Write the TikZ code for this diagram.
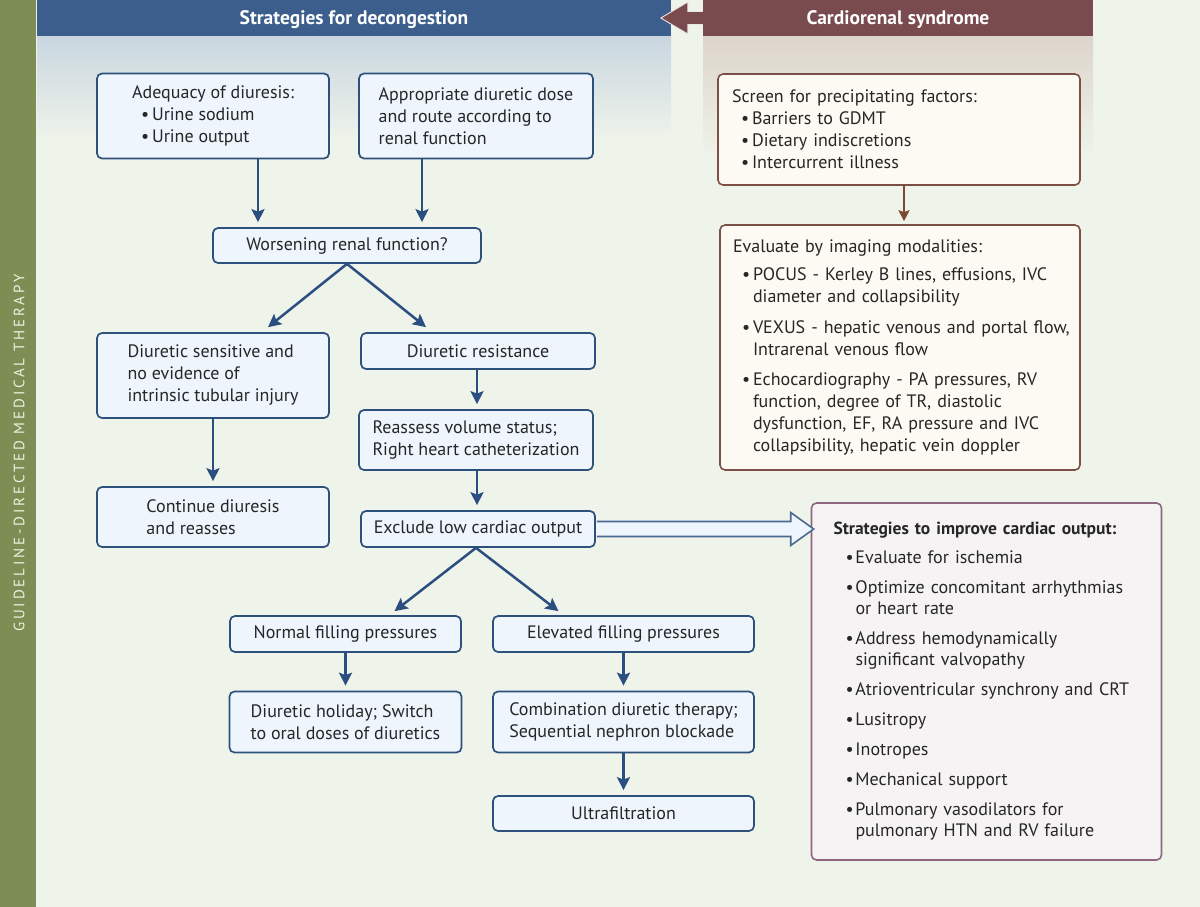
\documentclass[tikz,border=0pt]{standalone}
\usepackage{fontspec}
\setmainfont{PT Sans}
\usetikzlibrary{arrows.meta,calc}
\definecolor{bg}{HTML}{EFF4EA}
\definecolor{hblue}{HTML}{3B5E8C}
\definecolor{hmaroon}{HTML}{7A4B4E}
\definecolor{bfill}{HTML}{EEF5FC}
\definecolor{bborder}{HTML}{2E507C}
\definecolor{ablue}{HTML}{2A4E80}
\definecolor{cfill}{HTML}{FDF9F3}
\definecolor{cborder}{HTML}{7D5045}
\definecolor{abrown}{HTML}{7B4A32}
\definecolor{sfill}{HTML}{F6F3F4}
\definecolor{sborder}{HTML}{8E6680}
\definecolor{barcol}{HTML}{7E8D53}
\definecolor{bartext}{HTML}{EEF1E2}
\definecolor{bluegrad}{HTML}{C9D6E0}
\definecolor{beigegrad}{HTML}{DDD5CC}
\definecolor{txt}{HTML}{262626}
\newcommand{\bul}{\hspace*{9pt}\makebox[11pt][l]{\textbullet}}
\newcommand{\ind}{\hspace*{20pt}}
\newcommand{\bulx}{\hspace*{12pt}\makebox[10pt][l]{\textbullet}}
\newcommand{\indx}{\hspace*{22pt}}
\begin{document}
\begin{tikzpicture}[x=1pt,y=-1pt,
  hdr/.style={text=white, font=\bfseries\fontsize{19.5}{22}\selectfont, minimum height=36pt, inner sep=0pt, text depth=0pt, text height=14pt},
  bbox/.style={draw=bborder, fill=bfill, line width=1.7pt, rounded corners=5pt, align=left, inner sep=0pt, font=\fontsize{18}{22}\selectfont, text=txt},
  cbox/.style={draw=cborder, fill=cfill, line width=1.6pt, rounded corners=5pt, align=left, font=\fontsize{18}{22}\selectfont, text=txt, inner ysep=0pt},
  sbox/.style={draw=sborder, fill=sfill, line width=1.6pt, rounded corners=5pt, align=left, font=\fontsize{18}{21}\selectfont, text=txt, inner ysep=0pt},
  arr/.style={draw=ablue, line width=2.5pt, -{Stealth[length=13pt,width=13pt,inset=2.5pt]}},
  barr/.style={draw=abrown, line width=2pt, -{Stealth[length=11pt,width=11pt,inset=2pt]}},
  hollow/.style={draw=ablue!85!white, fill=bfill, line width=1.6pt, line join=miter}
]
\useasboundingbox (0,0) rectangle (1200,907);
\fill[bg] (0,0) rectangle (1200,907);
\shade[top color=bluegrad, bottom color=bg] (37,36) rectangle (671,140);
\shade[top color=beigegrad, bottom color=bg] (703,36) rectangle (1093,160);
\fill[barcol] (0,0) rectangle (36,907);
\node[rotate=90, text=bartext, font=\fontsize{15}{17}\selectfont\addfontfeature{LetterSpace=19}] (gdmt) at (19,453) {GUIDELINE-DIRECTED MEDICAL THERAPY};

% headers
\node[hdr, fill=hblue, minimum width=634pt] (hs) at (354,18) {Strategies for decongestion};
\node[hdr, fill=hmaroon, minimum width=390pt] (hc) at (898,18) {Cardiorenal syndrome};
\draw[fill=hmaroon, draw=white!85!hmaroon, line width=0.9pt]
  ($(hc.west)+(0,-6.5)$) -- ($(hc.west)+(-15,-6.5)$) -- ($(hc.west)+(-15,-16)$)
  -- ($(hc.west)+(-42,0)$) -- ($(hc.west)+(-15,16)$) -- ($(hc.west)+(-15,6.5)$) -- ($(hc.west)+(0,6.5)$);

% left column boxes
\node[bbox, minimum width=232pt, minimum height=85pt] (adeq) at (213,116)
  {Adequacy of diuresis:\\\bul Urine sodium\\\bul Urine output};
\node[bbox, minimum width=234pt, minimum height=85pt] (approp) at (476,116)
  {Appropriate diuretic dose\\and route according to\\renal function};
\node[bbox, minimum width=268pt, minimum height=35pt] (worsen) at (347,245.5) {Worsening renal function?};
\node[bbox, minimum width=232pt, minimum height=85pt] (sens) at (213,375.5)
  {Diuretic sensitive and\\no evidence of\\intrinsic tubular injury};
\node[bbox, minimum width=234pt, minimum height=36pt] (resist) at (478,351) {Diuretic resistance};
\node[bbox, minimum width=234pt, minimum height=60pt] (reass) at (476,440)
  {Reassess volume status;\\Right heart catheterization};
\node[bbox, minimum width=232pt, minimum height=60pt] (cont) at (213,517)
  {Continue diuresis\\and reasses};
\node[bbox, minimum width=234pt, minimum height=36pt] (excl) at (478,529) {Exclude low cardiac output};
\node[bbox, minimum width=231pt, minimum height=36pt] (normal) at (345.5,634) {Normal filling pressures};
\node[bbox, minimum width=261pt, minimum height=36pt] (elev) at (623.5,634) {Elevated filling pressures};
\node[bbox, minimum width=232pt, minimum height=61pt] (holiday) at (345.5,722)
  {Diuretic holiday; Switch\\to oral doses of diuretics};
\node[bbox, minimum width=261pt, minimum height=61pt] (combo) at (623.5,722)
  {Combination diuretic therapy;\\Sequential nephron blockade};
\node[bbox, minimum width=261pt, minimum height=35pt] (ultra) at (623.5,813.5) {Ultrafiltration};

% right column boxes
\node[cbox, minimum width=362pt, minimum height=111pt, inner xsep=14pt, text width=334pt] (screen) at (899,129.5)
  {Screen for precipitating factors:\\\bul Barriers to GDMT\\\bul Dietary indiscretions\\\bul Intercurrent illness};
\node[cbox, minimum width=360pt, minimum height=245pt, inner xsep=13pt, text width=334pt] (eval) at (900,347.5)
  {Evaluate by imaging modalities:\\[6pt]
   \mbox{\bul POCUS - Kerley B lines, effusions, IVC}\\\ind diameter and collapsibility\\[9pt]
   \mbox{\bul VEXUS - hepatic venous and portal flow,}\\\ind Intrarenal venous flow\\[8pt]
   \mbox{\bul Echocardiography - PA pressures, RV}\\\ind function, degree of TR, diastolic\\\mbox{\ind dysfunction, EF, RA pressure and IVC}\\\mbox{\ind collapsibility, hepatic vein doppler}};
\node[sbox, minimum width=343pt, minimum height=357pt, inner xsep=22pt, text width=306pt] (strat) at (986.5,681.5)
  {\mbox{\bfseries\fontsize{17.5}{21}\selectfont Strategies to improve cardiac output:}\\[8pt]
   \bulx Evaluate for ischemia\\[9pt]
   \mbox{\bulx Optimize concomitant arrhythmias}\\\indx or heart rate\\[9pt]
   \bulx Address hemodynamically\\\indx significant valvopathy\\[9pt]
   \mbox{\bulx Atrioventricular synchrony and CRT}\\[9pt]
   \bulx Lusitropy\\[9pt]
   \bulx Inotropes\\[9pt]
   \bulx Mechanical support\\[9pt]
   \bulx Pulmonary vasodilators for\\\mbox{\indx pulmonary HTN and RV failure}};

% connectors
\coordinate (w1) at ($(worsen.north)+(-89,0)$);
\coordinate (w2) at ($(worsen.north)+(75,0)$);
\draw[arr] (adeq.south -| w1) -- ($(w1)+(0,-5)$);
\draw[arr] (approp.south -| w2) -- ($(w2)+(0,-5)$);
\draw[arr] (worsen.south) -- ($(sens.north)+(55,-5)$);
\draw[arr] (worsen.south) -- ($(resist.north)+(-52,-5)$);
\draw[arr] (sens.south) -- ($(cont.north)+(0,-5)$);
\coordinate (r1) at ($(resist.south)+(-1,0)$);
\draw[arr] (r1) -- ($(reass.north -| r1)+(0,-5)$);
\draw[arr] (reass.south -| r1) -- ($(excl.north -| r1)+(0,-5)$);
\coordinate (e0) at ($(excl.south)+(-2,0)$);
\draw[arr] (e0) -- ($(normal.north)+(49,-4)$);
\draw[arr] (e0) -- ($(elev.north)+(-65,-4)$);
\draw[arr] (normal.south) -- ($(holiday.north)+(0,-5)$);
\draw[arr] (elev.south) -- ($(combo.north)+(0,-5)$);
\draw[arr] (combo.south) -- ($(ultra.north)+(0,-5)$);
\coordinate (s1) at ($(screen.south)+(5,0)$);
\draw[barr] (s1) -- ($(eval.north -| s1)+(0,-3)$);

% hollow arrow
\coordinate (ho) at (excl.east -| strat.west);
\draw[hollow] ($(excl.east)+(0.9,-7.5)$) -- ($(ho)+(-20,-7.5)$) -- ($(ho)+(-20,-16.5)$)
  -- ($(ho)+(3,0)$) -- ($(ho)+(-20,16.5)$) -- ($(ho)+(-20,7.5)$) -- ($(excl.east)+(0.9,7.5)$);
\end{tikzpicture}
\end{document}
